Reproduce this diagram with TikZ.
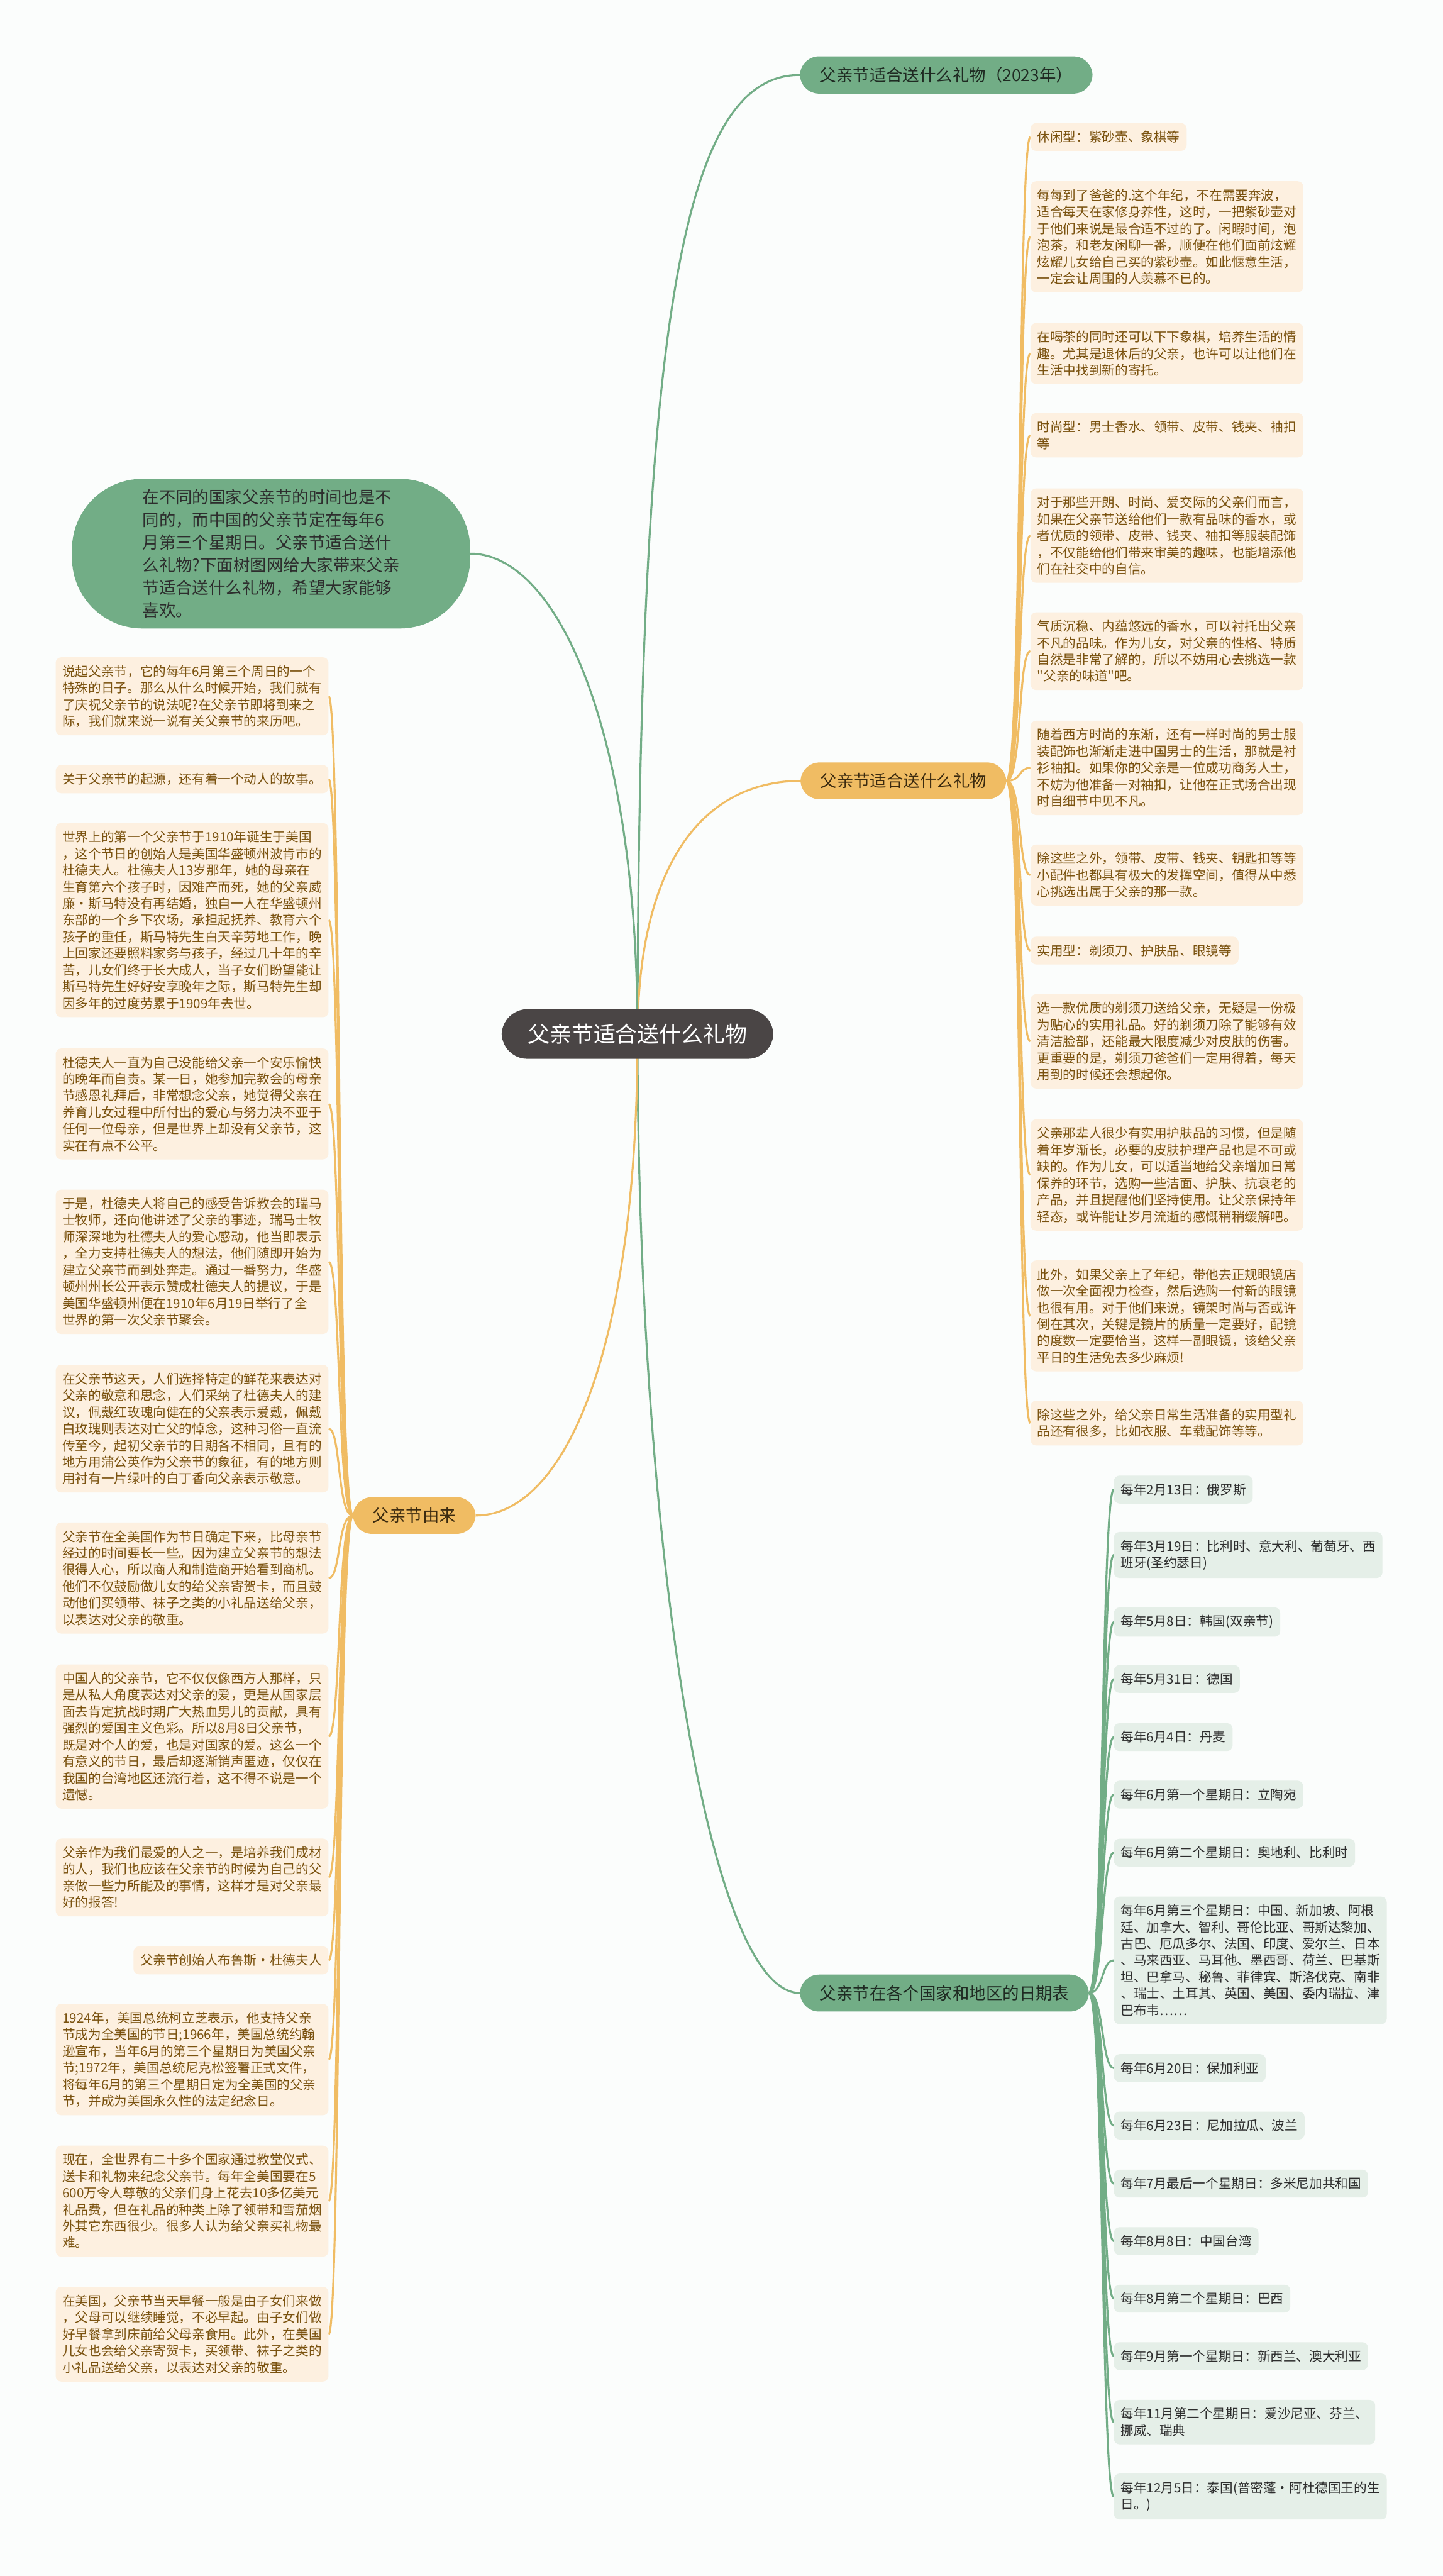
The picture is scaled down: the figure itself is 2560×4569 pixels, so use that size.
\documentclass[tikz,border=0pt]{standalone}
\usepackage{fontspec}
\newfontfamily\cjk{Noto Sans CJK SC}
\usetikzlibrary{backgrounds}
\definecolor{bgc}{RGB}{251,253,252}
\definecolor{centerc}{RGB}{74,69,69}
\definecolor{greenc}{RGB}{114,173,134}
\definecolor{orangec}{RGB}{240,188,99}
\definecolor{peach}{RGB}{253,240,224}
\definecolor{leafgreen}{RGB}{229,239,232}
\definecolor{leafbrown}{RGB}{122,82,15}
\definecolor{darktext}{RGB}{45,45,45}
\definecolor{brtextg}{RGB}{31,42,34}
\definecolor{brtexto}{RGB}{59,42,15}
\tikzset{
  leaffont/.style={font=\cjk\fontsize{23}{29.5}\selectfont},
  leafO/.style={leaffont, fill=peach, text=leafbrown, rounded corners=10, inner xsep=12, inner ysep=14, align=left},
  leafOw/.style={leafO, text width=460},
  leafG/.style={leaffont, fill=leafgreen, text=darktext, rounded corners=10, inner xsep=12, inner ysep=14, align=left},
  brbase/.style={font=\cjk\fontsize{29.5}{36}\selectfont, rounded corners=34, inner xsep=35, inner ysep=19},
  brG/.style={brbase, fill=greenc, text=brtextg},
  brO/.style={brbase, fill=orangec, text=brtexto},
  centerbox/.style={font=\cjk\fontsize{39}{46}\selectfont, fill=centerc, text=white, rounded corners=46, inner xsep=46, inner ysep=26},
  introbox/.style={font=\cjk\fontsize{29.5}{40}\selectfont, fill=greenc, text=darktext, rounded corners=125, inner xsep=125, inner ysep=19, align=left},
  conO/.style={draw=orangec, line width=3.5pt},
  conG/.style={draw=greenc, line width=3.5pt},
}
\begin{document}
\begin{tikzpicture}[x=1pt,y=-1pt]
\useasboundingbox (0,0) rectangle (2560,4569);

% main nodes
\node[centerbox] (c) at (1131,1834) {父亲节适合送什么礼物};
\node[brG, anchor=west] (b1) at (1419,133) {父亲节适合送什么礼物（2023年）};
\node[brO, anchor=west] (b2) at (1420,1385) {父亲节适合送什么礼物};
\node[brG, anchor=west] (b3) at (1419,3535) {父亲节在各个国家和地区的日期表};
\node[brO, anchor=east] (b4) at (844,2688) {父亲节由来};
\node[introbox] (intro) at (481,982) {在不同的国家父亲节的时间也是不\\同的，而中国的父亲节定在每年6\\月第三个星期日。父亲节适合送什\\么礼物?下面树图网给大家带来父亲\\节适合送什么礼物，希望大家能够\\喜欢。};

% branch 2 leaves
\node[leafO, anchor=west] (l1) at (1828,243) {休闲型：紫砂壶、象棋等};
\node[leafOw, anchor=west] (l2) at (1828,420) {每每到了爸爸的.这个年纪，不在需要奔波，\\适合每天在家修身养性，这时，一把紫砂壶对\\于他们来说是最合适不过的了。闲暇时间，泡\\泡茶，和老友闲聊一番，顺便在他们面前炫耀\\炫耀儿女给自己买的紫砂壶。如此惬意生活，\\一定会让周围的人羡慕不已的。};
\node[leafOw, anchor=west] (l3) at (1828,627) {在喝茶的同时还可以下下象棋，培养生活的情\\趣。尤其是退休后的父亲，也许可以让他们在\\生活中找到新的寄托。};
\node[leafOw, anchor=west] (l4) at (1828,772) {时尚型：男士香水、领带、皮带、钱夹、袖扣\\等};
\node[leafOw, anchor=west] (l5) at (1828,950) {对于那些开朗、时尚、爱交际的父亲们而言，\\如果在父亲节送给他们一款有品味的香水，或\\者优质的领带、皮带、钱夹、袖扣等服装配饰\\，不仅能给他们带来审美的趣味，也能增添他\\们在社交中的自信。};
\node[leafOw, anchor=west] (l6) at (1828,1155) {气质沉稳、内蕴悠远的香水，可以衬托出父亲\\不凡的品味。作为儿女，对父亲的性格、特质\\自然是非常了解的，所以不妨用心去挑选一款\\"父亲的味道"吧。};
\node[leafOw, anchor=west] (l7) at (1828,1362) {随着西方时尚的东渐，还有一样时尚的男士服\\装配饰也渐渐走进中国男士的生活，那就是衬\\衫袖扣。如果你的父亲是一位成功商务人士，\\不妨为他准备一对袖扣，让他在正式场合出现\\时自细节中见不凡。};
\node[leafOw, anchor=west] (l8) at (1828,1552) {除这些之外，领带、皮带、钱夹、钥匙扣等等\\小配件也都具有极大的发挥空间，值得从中悉\\心挑选出属于父亲的那一款。};
\node[leafO, anchor=west] (l9) at (1828,1686) {实用型：剃须刀、护肤品、眼镜等};
\node[leafOw, anchor=west] (l10) at (1828,1847) {选一款优质的剃须刀送给父亲，无疑是一份极\\为贴心的实用礼品。好的剃须刀除了能够有效\\清洁脸部，还能最大限度减少对皮肤的伤害。\\更重要的是，剃须刀爸爸们一定用得着，每天\\用到的时候还会想起你。};
\node[leafOw, anchor=west] (l11) at (1828,2084) {父亲那辈人很少有实用护肤品的习惯，但是随\\着年岁渐长，必要的皮肤护理产品也是不可或\\缺的。作为儿女，可以适当地给父亲增加日常\\保养的环节，选购一些洁面、护肤、抗衰老的\\产品，并且提醒他们坚持使用。让父亲保持年\\轻态，或许能让岁月流逝的感慨稍稍缓解吧。};
\node[leafOw, anchor=west] (l12) at (1828,2334) {此外，如果父亲上了年纪，带他去正规眼镜店\\做一次全面视力检查，然后选购一付新的眼镜\\也很有用。对于他们来说，镜架时尚与否或许\\倒在其次，关键是镜片的质量一定要好，配镜\\的度数一定要恰当，这样一副眼镜，该给父亲\\平日的生活免去多少麻烦!};
\node[leafOw, anchor=west] (l13) at (1828,2524) {除这些之外，给父亲日常生活准备的实用型礼\\品还有很多，比如衣服、车载配饰等等。};

% branch 3 leaves
\node[leafG, anchor=west] (d1) at (1976,2642) {每年2月13日：俄罗斯};
\node[leafG, anchor=west] (d2) at (1976,2758) {每年3月19日：比利时、意大利、葡萄牙、西\\班牙(圣约瑟日)};
\node[leafG, anchor=west] (d3) at (1976,2877) {每年5月8日：韩国(双亲节)};
\node[leafG, anchor=west] (d4) at (1976,2978) {每年5月31日：德国};
\node[leafG, anchor=west] (d5) at (1976,3081) {每年6月4日：丹麦};
\node[leafG, anchor=west] (d6) at (1976,3183) {每年6月第一个星期日：立陶宛};
\node[leafG, anchor=west] (d7) at (1976,3286) {每年6月第二个星期日：奥地利、比利时};
\node[leafG, anchor=west] (d8) at (1976,3477) {每年6月第三个星期日：中国、新加坡、阿根\\廷、加拿大、智利、哥伦比亚、哥斯达黎加、\\古巴、厄瓜多尔、法国、印度、爱尔兰、日本\\、马来西亚、马耳他、墨西哥、荷兰、巴基斯\\坦、巴拿马、秘鲁、菲律宾、斯洛伐克、南非\\、瑞士、土耳其、英国、美国、委内瑞拉、津\\巴布韦……};
\node[leafG, anchor=west] (d9) at (1976,3668) {每年6月20日：保加利亚};
\node[leafG, anchor=west] (d10) at (1976,3770) {每年6月23日：尼加拉瓜、波兰};
\node[leafG, anchor=west] (d11) at (1976,3873) {每年7月最后一个星期日：多米尼加共和国};
\node[leafG, anchor=west] (d12) at (1976,3975) {每年8月8日：中国台湾};
\node[leafG, anchor=west] (d13) at (1976,4077) {每年8月第二个星期日：巴西};
\node[leafG, anchor=west] (d14) at (1976,4179) {每年9月第一个星期日：新西兰、澳大利亚};
\node[leafG, anchor=west] (d15) at (1976,4296) {每年11月第二个星期日：爱沙尼亚、芬兰、\\挪威、瑞典};
\node[leafG, anchor=west] (d16) at (1976,4428) {每年12月5日：泰国(普密蓬·阿杜德国王的生\\日。)};

% branch 4 leaves
\node[leafOw, anchor=east] (e1) at (583,1235) {说起父亲节，它的每年6月第三个周日的一个\\特殊的日子。那么从什么时候开始，我们就有\\了庆祝父亲节的说法呢?在父亲节即将到来之\\际，我们就来说一说有关父亲节的来历吧。};
\node[leafOw, anchor=east] (e2) at (583,1382) {关于父亲节的起源，还有着一个动人的故事。};
\node[leafOw, anchor=east] (e3) at (583,1632) {世界上的第一个父亲节于1910年诞生于美国\\，这个节日的创始人是美国华盛顿州波肯市的\\杜德夫人。杜德夫人13岁那年，她的母亲在\\生育第六个孩子时，因难产而死，她的父亲威\\廉·斯马特没有再结婚，独自一人在华盛顿州\\东部的一个乡下农场，承担起抚养、教育六个\\孩子的重任，斯马特先生白天辛劳地工作，晚\\上回家还要照料家务与孩子，经过几十年的辛\\苦，儿女们终于长大成人，当子女们盼望能让\\斯马特先生好好安享晚年之际，斯马特先生却\\因多年的过度劳累于1909年去世。};
\node[leafOw, anchor=east] (e4) at (583,1958) {杜德夫人一直为自己没能给父亲一个安乐愉快\\的晚年而自责。某一日，她参加完教会的母亲\\节感恩礼拜后，非常想念父亲，她觉得父亲在\\养育儿女过程中所付出的爱心与努力决不亚于\\任何一位母亲，但是世界上却没有父亲节，这\\实在有点不公平。};
\node[leafOw, anchor=east] (e5) at (583,2238) {于是，杜德夫人将自己的感受告诉教会的瑞马\\士牧师，还向他讲述了父亲的事迹，瑞马士牧\\师深深地为杜德夫人的爱心感动，他当即表示\\，全力支持杜德夫人的想法，他们随即开始为\\建立父亲节而到处奔走。通过一番努力，华盛\\顿州州长公开表示赞成杜德夫人的提议，于是\\美国华盛顿州便在1910年6月19日举行了全\\世界的第一次父亲节聚会。};
\node[leafOw, anchor=east] (e6) at (583,2534) {在父亲节这天，人们选择特定的鲜花来表达对\\父亲的敬意和思念，人们采纳了杜德夫人的建\\议，佩戴红玫瑰向健在的父亲表示爱戴，佩戴\\白玫瑰则表达对亡父的悼念，这种习俗一直流\\传至今，起初父亲节的日期各不相同，且有的\\地方用蒲公英作为父亲节的象征，有的地方则\\用衬有一片绿叶的白丁香向父亲表示敬意。};
\node[leafOw, anchor=east] (e7) at (583,2799) {父亲节在全美国作为节日确定下来，比母亲节\\经过的时间要长一些。因为建立父亲节的想法\\很得人心，所以商人和制造商开始看到商机。\\他们不仅鼓励做儿女的给父亲寄贺卡，而且鼓\\动他们买领带、袜子之类的小礼品送给父亲，\\以表达对父亲的敬重。};
\node[leafOw, anchor=east] (e8) at (583,3080) {中国人的父亲节，它不仅仅像西方人那样，只\\是从私人角度表达对父亲的爱，更是从国家层\\面去肯定抗战时期广大热血男儿的贡献，具有\\强烈的爱国主义色彩。所以8月8日父亲节，\\既是对个人的爱，也是对国家的爱。这么一个\\有意义的节日，最后却逐渐销声匿迹，仅仅在\\我国的台湾地区还流行着，这不得不说是一个\\遗憾。};
\node[leafOw, anchor=east] (e9) at (583,3330) {父亲作为我们最爱的人之一，是培养我们成材\\的人，我们也应该在父亲节的时候为自己的父\\亲做一些力所能及的事情，这样才是对父亲最\\好的报答!};
\node[leafO, anchor=east] (e10) at (583,3477) {父亲节创始人布鲁斯·杜德夫人};
\node[leafOw, anchor=east] (e11) at (583,3653) {1924年，美国总统柯立芝表示，他支持父亲\\节成为全美国的节日;1966年，美国总统约翰\\逊宣布，当年6月的第三个星期日为美国父亲\\节;1972年，美国总统尼克松签署正式文件，\\将每年6月的第三个星期日定为全美国的父亲\\节，并成为美国永久性的法定纪念日。};
\node[leafOw, anchor=east] (e12) at (583,3904) {现在，全世界有二十多个国家通过教堂仪式、\\送卡和礼物来纪念父亲节。每年全美国要在5\\600万令人尊敬的父亲们身上花去10多亿美元\\礼品费，但在礼品的种类上除了领带和雪茄烟\\外其它东西很少。很多人认为给父亲买礼物最\\难。};
\node[leafOw, anchor=east] (e13) at (583,4140) {在美国，父亲节当天早餐一般是由子女们来做\\，父母可以继续睡觉，不必早起。由子女们做\\好早餐拿到床前给父母亲食用。此外，在美国\\儿女也会给父亲寄贺卡，买领带、袜子之类的\\小礼品送给父亲，以表达对父亲的敬重。};

\begin{scope}[on background layer]
\fill[bgc] (0,0) rectangle (2560,4569);
% main connectors
\draw[conG] (c.center) .. controls (1133,520) and (1220,133) .. (b1.west);
\draw[conO] (c.center) .. controls (1133,1500) and (1270,1385) .. (b2.west);
\draw[conG] (c.center) .. controls (1131,2700) and (1250,3535) .. (b3.west);
\draw[conO] (c.center) .. controls (1131,2400) and (1000,2688) .. (b4.east);
\draw[conG] (c.center) .. controls (1131,1300) and (990,982) .. (intro.east);
% branch 2
\foreach \n in {l1,l2,l3,l4,l5,l6,l7,l8,l9,l10,l11,l12,l13}
  \draw[conO] (b2.east) .. controls +(28,0) and +(-22,0) .. (\n.west);
% branch 3
\foreach \n in {d1,d2,d3,d4,d5,d6,d7,d8,d9,d10,d11,d12,d13,d14,d15,d16}
  \draw[conG] (b3.east) .. controls +(26,0) and +(-22,0) .. (\n.west);
% branch 4
\foreach \n in {e1,e2,e3,e4,e5,e6,e7,e8,e9,e10,e11,e12,e13}
  \draw[conO] (b4.west) .. controls +(-28,0) and +(22,0) .. (\n.east);
\end{scope}
\end{tikzpicture}
\end{document}
